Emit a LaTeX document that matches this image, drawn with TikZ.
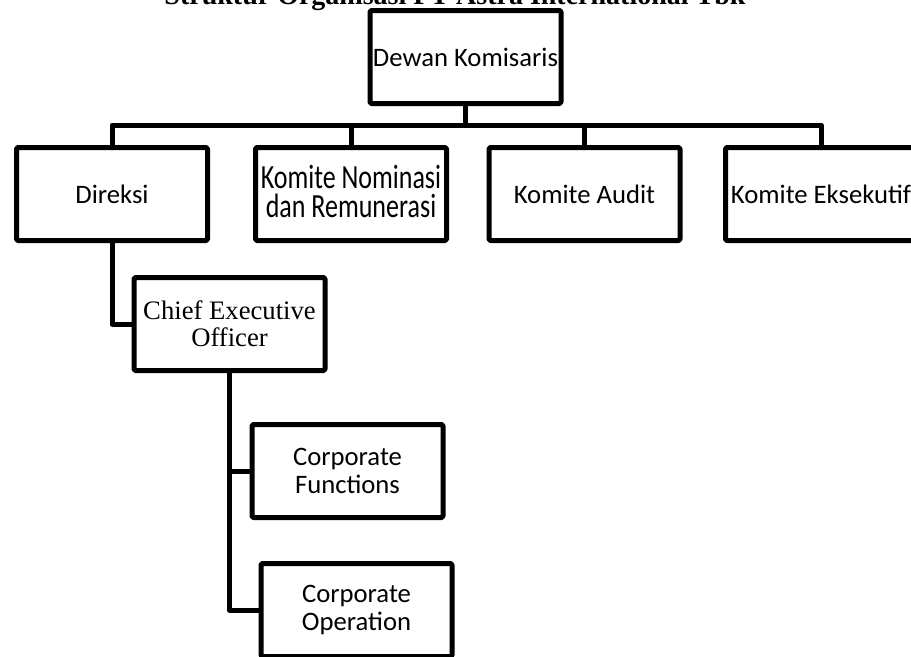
\documentclass[tikz,border=0pt]{standalone}
\usepackage{fontspec}
\setmainfont{Carlito}
\newfontfamily\timesfont{Liberation Serif}
\begin{document}
\begin{tikzpicture}[x=0.75pt,y=-0.75pt,
    line width=3.75pt, line join=round,
    orgbox/.style={draw, rounded corners=1pt, minimum width=143.25pt,
        minimum height=69.75pt, inner sep=1pt, align=center,
        font=\fontsize{20}{21}\selectfont}]
    \useasboundingbox (0,0) rectangle (911,657);
    \clip (0,0) rectangle (911,657);
    \node[anchor=base, font=\timesfont\bfseries\fontsize{21}{24}\selectfont]
        (judul) at (455,4) {Struktur Organisasi PT Astra International Tbk};
    \node[orgbox] (dewan) at (465.5,57) {Dewan Komisaris};
    \node[orgbox] (direksi) at (112,194) {Direksi};
    \node[orgbox] (nominasi) at (351,194) {\raisebox{3.75pt}{\scalebox{1}[1.3]{%
        \fontsize{19.5}{16.5}\selectfont\shortstack{Komite Nominasi\\dan Remunerasi}}}};
    \node[orgbox] (audit) at (584.5,194) {Komite Audit};
    \node[orgbox] (eksekutif) at (821,194) {Komite Eksekutif};
    \node[orgbox, font=\timesfont\fontsize{20}{20.25}\selectfont]
        (ceo) at (229.5,324) {Chief Executive\\Officer};
    \node[orgbox] (fungsi) at (347.5,471) {Corporate\\Functions};
    \node[orgbox] (operasi) at (356.5,610) {Corporate\\Operation};
    \coordinate (bus) at (465.5,125);
    \draw (dewan.south) -- (bus);
    \draw (direksi.north) |- (bus) -| (eksekutif.north);
    \draw (nominasi.north) -- (nominasi.north |- bus)
          (audit.north) -- (audit.north |- bus);
    \draw (direksi.south) |- (ceo.west);
    \draw (ceo.south) |- (fungsi.west)
          (ceo.south) |- (operasi.west);
\end{tikzpicture}
\end{document}
